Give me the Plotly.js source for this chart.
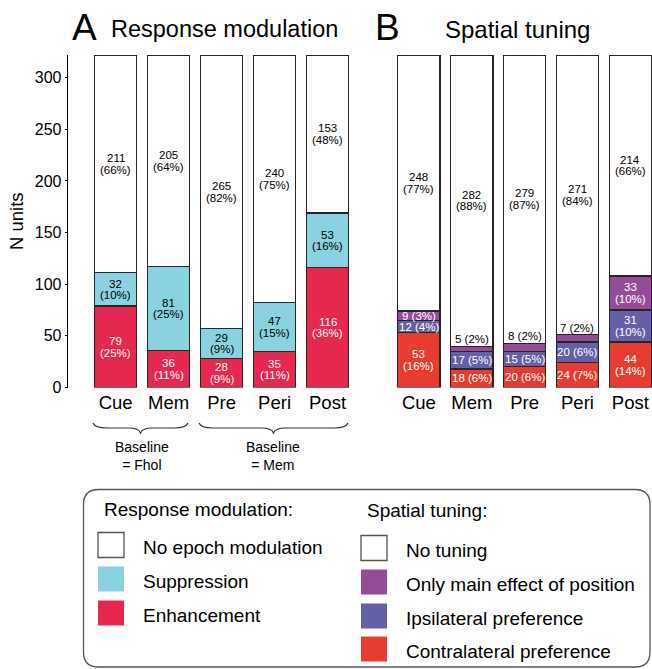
<!DOCTYPE html>
<html>
<head>
<meta charset="utf-8">
<script src="https://cdn.plot.ly/plotly-3.0.1.min.js"></script>
<style>
  html, body { margin: 0; padding: 0; background: #fff; }
  #chart { width: 652px; height: 669px; }
</style>
</head>
<body>
<div id="chart"></div>
<script>
// Epochs shown on both panels
const categories = ['Cue', 'Mem', 'Pre', 'Peri', 'Post'];

// Panel A: response modulation (N units)
const enhancement = [79, 36, 28, 35, 116];
const suppression = [32, 81, 29, 47, 53];
const noModulation = [211, 205, 265, 240, 153];

// Panel B: spatial tuning (N units)
const contralateral = [53, 18, 20, 24, 44];
const ipsilateral = [12, 17, 15, 20, 31];
const mainEffect = [9, 5, 8, 7, 33];
const noTuning = [248, 282, 279, 271, 214];

const yTicks = [0, 50, 100, 150, 200, 250, 300];

const COL = {
  enh: '#E6284F',
  sup: '#88D3DF',
  white: '#FFFFFF',
  contra: '#E73C30',
  ipsi: '#6460A6',
  main: '#954C97'
};

const W = 652, H = 669;
const fx = x => x / W;
const fy = y => 1 - y / H;
const FONT = 'Liberation Sans, Arial, Helvetica, sans-serif';
const OUTLINE = { color: '#262626', width: 1.2 };

function barTrace(name, values, color, xa, ya) {
  return {
    type: 'bar', name: name, x: categories, y: values,
    xaxis: xa, yaxis: ya, width: 0.8,
    marker: { color: color, line: OUTLINE },
    hoverinfo: 'skip', showlegend: false
  };
}

const traces = [
  barTrace('Enhancement', enhancement, COL.enh, 'x', 'y'),
  barTrace('Suppression', suppression, COL.sup, 'x', 'y'),
  barTrace('No epoch modulation', noModulation, COL.white, 'x', 'y'),
  barTrace('Contralateral preference', contralateral, COL.contra, 'x2', 'y2'),
  barTrace('Ipsilateral preference', ipsilateral, COL.ipsi, 'x2', 'y2'),
  barTrace('Only main effect of position', mainEffect, COL.main, 'x2', 'y2'),
  barTrace('No tuning', noTuning, COL.white, 'x2', 'y2')
];

// Count / percentage labels placed on each stacked segment
const annotations = [];
const LABEL_SIZE = 11.5;
const LINE_GAP = 5.8;

function labelStack(stack, xa, ya, smallLimit, twoLineLimit) {
  categories.forEach((cat, i) => {
    const total = stack.reduce((s, seg) => s + seg.values[i], 0);
    let base = 0;
    stack.forEach(seg => {
      const v = seg.values[i];
      const pct = Math.round(v / total * 100);
      const mid = base + v / 2;
      const top = base + v;
      base = top;
      if (v < smallLimit) {
        // too thin: label sits just above the segment
        annotations.push({
          xref: xa, yref: ya, x: cat, y: top, yshift: 7,
          text: v + ' (' + pct + '%)', showarrow: false,
          font: { family: FONT, size: LABEL_SIZE, color: '#000' }
        });
      } else if (v < twoLineLimit) {
        annotations.push({
          xref: xa, yref: ya, x: cat, y: mid,
          text: v + ' (' + pct + '%)', showarrow: false,
          font: { family: FONT, size: LABEL_SIZE, color: seg.text }
        });
      } else {
        annotations.push({
          xref: xa, yref: ya, x: cat, y: mid, yshift: LINE_GAP,
          text: String(v), showarrow: false,
          font: { family: FONT, size: LABEL_SIZE, color: seg.text }
        });
        annotations.push({
          xref: xa, yref: ya, x: cat, y: mid, yshift: -LINE_GAP,
          text: '(' + pct + '%)', showarrow: false,
          font: { family: FONT, size: LABEL_SIZE, color: seg.text }
        });
      }
    });
  });
}

labelStack([
  { values: enhancement, text: '#fff' },
  { values: suppression, text: '#000' },
  { values: noModulation, text: '#000' }
], 'x', 'y', 0, 0);

labelStack([
  { values: contralateral, text: '#fff' },
  { values: ipsilateral, text: '#fff' },
  { values: mainEffect, text: '#fff' },
  { values: noTuning, text: '#000' }
], 'x2', 'y2', 9, 25);

// Panel titles
function paperText(text, x, y, size, anchor) {
  annotations.push({
    xref: 'paper', yref: 'paper', x: fx(x), y: fy(y),
    xanchor: anchor || 'left', yanchor: 'middle',
    text: text, showarrow: false,
    font: { family: FONT, size: size, color: '#000' }
  });
}
paperText('A', 70, 27, 37);
paperText('Response modulation', 109, 29, 23.5);
paperText('B', 373, 27, 37);
paperText('Spatial tuning', 443, 29, 24);

// Baseline notes under the braces
annotations.push({
  xref: 'paper', yref: 'paper', x: fx(142), y: fy(456), xanchor: 'center', yanchor: 'middle',
  text: 'Baseline<br>= Fhol', showarrow: false, font: { family: FONT, size: 14, color: '#000' }
});
annotations.push({
  xref: 'paper', yref: 'paper', x: fx(273), y: fy(456), xanchor: 'center', yanchor: 'middle',
  text: 'Baseline<br>= Mem', showarrow: false, font: { family: FONT, size: 14, color: '#000' }
});

// Legend contents
const LEG_SIZE = 19;
paperText('Response modulation:', 102, 509, LEG_SIZE);
paperText('Spatial tuning:', 365, 510, LEG_SIZE);
const legendLeft = [
  ['No epoch modulation', COL.white, 545],
  ['Suppression', COL.sup, 579],
  ['Enhancement', COL.enh, 613]
];
const legendRight = [
  ['No tuning', COL.white, 548],
  ['Only main effect of position', COL.main, 582],
  ['Ipsilateral preference', COL.ipsi, 616],
  ['Contralateral preference', COL.contra, 649]
];

const shapes = [];
function swatch(x, yc, color) {
  shapes.push({
    type: 'rect', xref: 'paper', yref: 'paper',
    x0: fx(x), x1: fx(x + 26), y0: fy(yc + 12.5), y1: fy(yc - 12.5),
    fillcolor: color,
    line: color === COL.white ? { color: '#555', width: 1.3 } : { width: 0 }
  });
}
legendLeft.forEach(([t, c, y]) => { swatch(98, y, c); paperText(t, 141, y + 2, LEG_SIZE); });
legendRight.forEach(([t, c, y]) => { swatch(361, y, c); paperText(t, 404, y + 2, LEG_SIZE); });

// Rounded legend frame
function roundedRect(x0, y0, x1, y1, r) {
  const P = (x, y) => fx(x) + ',' + fy(y);
  return 'M' + P(x0 + r, y0) + ' L' + P(x1 - r, y0) + ' Q' + P(x1, y0) + ' ' + P(x1, y0 + r) +
    ' L' + P(x1, y1 - r) + ' Q' + P(x1, y1) + ' ' + P(x1 - r, y1) +
    ' L' + P(x0 + r, y1) + ' Q' + P(x0, y1) + ' ' + P(x0, y1 - r) +
    ' L' + P(x0, y0 + r) + ' Q' + P(x0, y0) + ' ' + P(x0 + r, y0) + ' Z';
}
shapes.push({
  type: 'path', xref: 'paper', yref: 'paper',
  path: roundedRect(83.5, 489.5, 650, 667, 15),
  line: { color: '#555', width: 1.3 }
});

// Curly braces grouping epochs by baseline
function brace(x0, x1, yEnd, yBody, yTip) {
  const P = (x, y) => fx(x) + ',' + fy(y);
  const m = (x0 + x1) / 2;
  return 'M' + P(x0, yEnd) + ' Q' + P(x0 + 2, yBody) + ' ' + P(x0 + 14, yBody) +
    ' L' + P(m - 12, yBody) + ' Q' + P(m - 2, yBody) + ' ' + P(m, yTip) +
    ' Q' + P(m + 2, yBody) + ' ' + P(m + 12, yBody) +
    ' L' + P(x1 - 14, yBody) + ' Q' + P(x1 - 2, yBody) + ' ' + P(x1, yEnd);
}
shapes.push({ type: 'path', xref: 'paper', yref: 'paper', path: brace(93, 188, 423, 428, 433), line: { color: '#333', width: 1.2 } });
shapes.push({ type: 'path', xref: 'paper', yref: 'paper', path: brace(199, 348, 423, 428, 433), line: { color: '#333', width: 1.2 } });

const yDomain = [fy(387.5), fy(55)];
const catFont = { family: FONT, size: 18.5, color: '#000' };

const layout = {
  width: W, height: H,
  margin: { l: 0, r: 0, t: 0, b: 0 },
  paper_bgcolor: '#fff', plot_bgcolor: 'rgba(0,0,0,0)',
  barmode: 'stack', showlegend: false,
  font: { family: FONT, color: '#000' },
  xaxis: {
    domain: [fx(68), fx(354)], range: [-0.9, 4.5], type: 'category',
    showline: false, showgrid: false, zeroline: false, ticks: '',
    tickfont: catFont, fixedrange: true, ticklabelstandoff: 2
  },
  yaxis: {
    domain: yDomain, range: [0, 322], anchor: 'x',
    tickvals: yTicks, ticktext: yTicks.map(String),
    showline: true, linecolor: '#000', linewidth: 1.3,
    ticks: 'outside', ticklen: 2, tickcolor: '#000',
    showgrid: false, zeroline: false,
    tickfont: { family: FONT, size: 16, color: '#000' },
    title: { text: 'N units', font: { family: FONT, size: 18.5, color: '#000' }, standoff: 6 },
    fixedrange: true
  },
  xaxis2: {
    domain: [fx(392.5), 1], range: [-0.5, 4.41], type: 'category', anchor: 'y2',
    showline: false, showgrid: false, zeroline: false, ticks: '',
    tickfont: catFont, fixedrange: true, ticklabelstandoff: 2
  },
  yaxis2: {
    domain: yDomain, range: [0, 322], anchor: 'x2',
    visible: false, fixedrange: true
  },
  annotations: annotations,
  shapes: shapes
};

Plotly.newPlot('chart', traces, layout, { displayModeBar: false, staticPlot: true });
</script>
</body>
</html>
